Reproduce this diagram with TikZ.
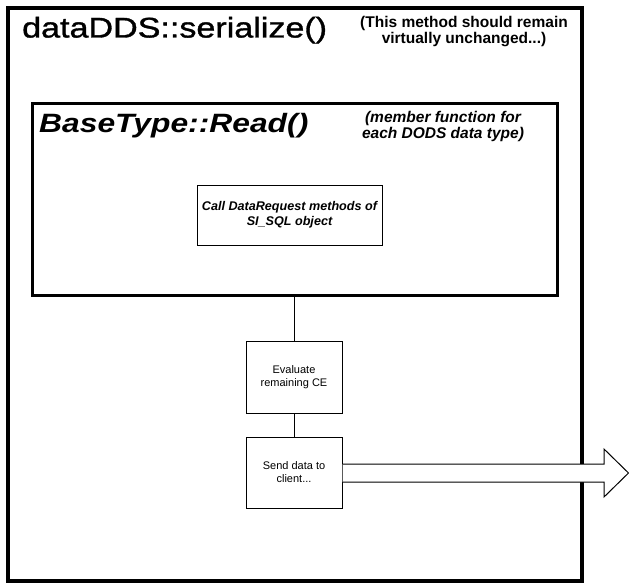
\documentclass[tikz,border=0pt]{standalone}
\usepackage{fontspec}
\setmainfont{Liberation Sans}
\newfontfamily\widefont[FakeStretch=1.2]{Liberation Sans}
\newfontfamily\titlefont[FakeStretch=1.2,FakeBold=1.2]{Liberation Sans}
\begin{document}
\begin{tikzpicture}[x=1pt,y=-1pt,
  txt/.style={inner sep=0pt, align=center},
  frame/.style={draw, inner sep=0pt, anchor=north west},
  stepbox/.style={draw, line width=1pt, fill=white, inner sep=0pt, align=center},
  link/.style={draw, line width=1pt},
  blockarrow/.style={draw, fill=white, line width=1pt, line join=miter}
]
\useasboundingbox (0,0) rectangle (629,586);
\fill[white] (0,0) rectangle (629,586);

% outer frame
\node[frame, line width=4pt, minimum width=573.5pt, minimum height=572.5pt] (outer) at (6,6) {};
% inner frame
\node[frame, line width=3pt, minimum width=524.5pt, minimum height=192.5pt] (inner) at (31,101.5) {};

% titles
\node[txt, anchor=base west, font=\titlefont\fontsize{28.4}{34}\selectfont] (title) at (22,37.5) {dataDDS::serialize()};
\node[txt, anchor=north, font=\bfseries\fontsize{15.5}{16}\selectfont] (note1) at (464,16) {(This method should remain\\virtually unchanged...)};
\node[txt, anchor=base west, font=\widefont\bfseries\itshape\fontsize{26.5}{32}\selectfont] (btitle) at (39,132) {BaseType::Read()};
\node[txt, anchor=north, font=\bfseries\itshape\fontsize{15.5}{16}\selectfont] (note2) at (443,110.7) {(member function for\\each DODS data type)};

% boxes
\node[stepbox, minimum width=185pt, minimum height=60pt, font=\bfseries\itshape\fontsize{12.6}{15}\selectfont] (call) at (289.5,215) {Call DataRequest methods of\\SI\_SQL object};
\node[stepbox, minimum width=96pt, minimum height=72pt, font=\fontsize{11}{13}\selectfont] (eval) at (294,377) {Evaluate\\remaining CE};
\node[stepbox, minimum width=96pt, minimum height=71pt, font=\fontsize{11}{13}\selectfont] (send) at (294,472.5) {Send data to\\client...};

% connectors
\draw[link] (inner.south -| eval.north) -- (eval.north);
\draw[link] (eval.south) -- (send.north);

% block arrow
\coordinate (tip) at (628.5,473);
\filldraw[blockarrow] (send.east |- 0,464) -- (604,464) -- (604,449) -- (tip) -- (604,497) -- (604,482) -- (send.east |- 0,482);
\end{tikzpicture}
\end{document}
